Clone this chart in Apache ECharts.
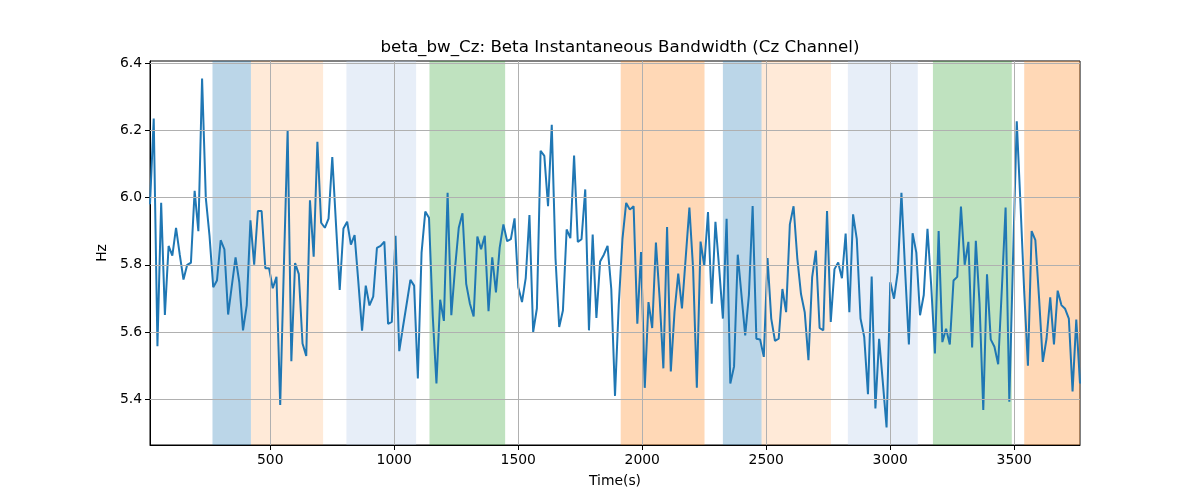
<!DOCTYPE html>
<html>
<head>
<meta charset="utf-8">
<script src="https://cdn.jsdelivr.net/npm/echarts@6/dist/echarts.min.js"></script>
<style>
html,body{margin:0;padding:0;background:#fff;}
#chart{width:1200px;height:500px;}
</style>
</head>
<body>
<div id="chart"></div>
<script>
var times = [
15,30,45,60,75,90,105,120,135,150,165,180,195,210,225,240,255,270,285,300,
315,330,345,360,375,390,405,420,435,450,465,480,495,510,525,540,555,570,585,600,
615,630,645,660,675,690,705,720,735,750,765,780,795,810,825,840,855,870,885,900,
915,930,945,960,975,990,1005,1020,1035,1050,1065,1080,1095,1110,1125,1140,1155,1170,1185,1200,
1215,1230,1245,1260,1275,1290,1305,1320,1335,1350,1365,1380,1395,1410,1425,1440,1455,1470,1485,1500,
1515,1530,1545,1560,1575,1590,1605,1620,1635,1650,1665,1680,1695,1710,1725,1740,1755,1770,1785,1800,
1815,1830,1845,1860,1875,1890,1905,1920,1935,1950,1965,1980,1995,2010,2025,2040,2055,2070,2085,2100,
2115,2130,2145,2160,2175,2190,2205,2220,2235,2250,2265,2280,2295,2310,2325,2340,2355,2370,2385,2400,
2415,2430,2445,2460,2475,2490,2505,2520,2535,2550,2565,2580,2595,2610,2625,2640,2655,2670,2685,2700,
2715,2730,2745,2760,2775,2790,2805,2820,2835,2850,2865,2880,2895,2910,2925,2940,2955,2970,2985,3000,
3015,3030,3045,3060,3075,3090,3105,3120,3135,3150,3165,3180,3195,3210,3225,3240,3255,3270,3285,3300,
3315,3330,3345,3360,3375,3390,3405,3420,3435,3450,3465,3480,3495,3510,3525,3540,3555,3570,3585,3600,
3615,3630,3645,3660,3675,3690,3705,3720,3735,3750,3765
];
var betaBw = [
5.98,6.235,5.558,5.984,5.651,5.856,5.827,5.91,5.83,5.756,5.80,5.806,6.02,5.90,6.354,5.999,5.886,5.733,5.753,5.873,
5.846,5.652,5.738,5.822,5.748,5.605,5.679,5.932,5.80,5.96,5.96,5.79,5.79,5.73,5.764,5.383,5.80,6.20,5.513,5.805,
5.772,5.566,5.529,5.992,5.824,6.166,5.925,5.91,5.937,6.12,5.92,5.725,5.908,5.928,5.86,5.888,5.75,5.604,5.738,5.679,
5.705,5.85,5.856,5.869,5.624,5.63,5.886,5.543,5.615,5.684,5.755,5.738,5.462,5.836,5.958,5.94,5.65,5.447,5.696,5.633,
6.014,5.65,5.79,5.91,5.953,5.743,5.684,5.646,5.884,5.846,5.886,5.662,5.822,5.718,5.851,5.92,5.87,5.876,5.938,5.733,
5.689,5.76,5.948,5.60,5.67,6.139,6.124,5.974,6.216,5.82,5.615,5.664,5.905,5.879,6.125,5.868,5.876,6.024,5.605,5.89,
5.642,5.81,5.83,5.856,5.728,5.41,5.679,5.876,5.984,5.964,5.974,5.625,5.838,5.434,5.689,5.612,5.866,5.70,5.492,5.912,
5.483,5.66,5.774,5.67,5.82,5.97,5.787,5.434,5.869,5.797,5.957,5.684,5.928,5.79,5.64,5.937,5.447,5.497,5.83,5.71,
5.59,5.71,5.975,5.58,5.578,5.526,5.82,5.64,5.574,5.58,5.728,5.659,5.92,5.974,5.82,5.713,5.659,5.516,5.763,5.842,
5.612,5.605,5.96,5.63,5.787,5.807,5.76,5.893,5.659,5.95,5.876,5.64,5.585,5.415,5.765,5.373,5.58,5.45,5.316,5.748,
5.699,5.778,6.014,5.78,5.563,5.894,5.836,5.65,5.71,5.907,5.738,5.536,5.90,5.57,5.61,5.563,5.753,5.764,5.973,5.80,
5.868,5.554,5.871,5.684,5.368,5.772,5.578,5.556,5.504,5.73,5.97,5.393,5.82,6.227,5.98,5.72,5.50,5.90,5.873,5.70,
5.511,5.58,5.703,5.563,5.723,5.68,5.669,5.64,5.423,5.637,5.447
];
var bandStarts = [267, 422, 807, 1142, 1913, 2325, 2481, 2829, 3172, 3540];
var bandEnds   = [422, 713, 1088, 1447, 2251, 2481, 2761, 3111, 3490, 3765];
var bandColors = [
  'rgba(31,119,180,0.3)', 'rgba(255,127,14,0.16)', 'rgba(174,199,232,0.3)', 'rgba(44,160,44,0.3)',
  'rgba(255,127,14,0.3)', 'rgba(31,119,180,0.3)', 'rgba(255,127,14,0.16)', 'rgba(174,199,232,0.3)',
  'rgba(44,160,44,0.3)', 'rgba(255,127,14,0.3)'
];
var xTicks = [500, 1000, 1500, 2000, 2500, 3000, 3500];
var yTicks = [5.4, 5.6, 5.8, 6.0, 6.2, 6.4];
var xMin = 15, xMax = 3765, yMin = 5.264, yMax = 6.406;

var lineData = times.map(function (t, i) { return [t, betaBw[i]]; });
var areaData = bandStarts.map(function (s, i) {
  return [{ xAxis: s, itemStyle: { color: bandColors[i] } }, { xAxis: bandEnds[i] }];
});
var gridLineData = xTicks.map(function (v) { return { xAxis: v }; })
  .concat(yTicks.map(function (v) { return { yAxis: v }; }));

var font = 'DejaVu Sans';
var chart = echarts.init(document.getElementById('chart'), null, { renderer: 'canvas' });
chart.setOption({
  animation: false,
  backgroundColor: '#fff',
  title: {
    text: 'beta_bw_Cz: Beta Instantaneous Bandwidth (Cz Channel)',
    left: 615, top: 34, textAlign: 'center',
    textStyle: { fontFamily: font, fontSize: 16.7, fontWeight: 'normal', color: '#000' }
  },
  grid: { left: 150, right: 120, top: 61, bottom: 55, show: true, borderColor: '#000', borderWidth: 1, backgroundColor: 'transparent' },
  xAxis: {
    type: 'value', min: xMin, max: xMax,
    name: 'Time(s)', nameLocation: 'middle', nameGap: 29,
    nameTextStyle: { fontFamily: font, fontSize: 13.9, color: '#000' },
    axisLine: { show: true, lineStyle: { color: '#000', width: 1 } },
    axisTick: { show: true, length: 5, lineStyle: { color: '#000' }, customValues: xTicks },
    axisLabel: { fontFamily: font, fontSize: 13.9, color: '#000', margin: 8, customValues: xTicks,
      formatter: function (v) { return String(v); } },
    splitLine: { show: false }
  },
  yAxis: {
    type: 'value', min: yMin, max: yMax,
    name: 'Hz', nameLocation: 'middle', nameGap: 40, nameRotate: 90,
    nameTextStyle: { fontFamily: font, fontSize: 13.9, color: '#000' },
    axisLine: { show: true, lineStyle: { color: '#000', width: 1 } },
    axisTick: { show: true, length: 5, lineStyle: { color: '#000' }, customValues: yTicks },
    axisLabel: { fontFamily: font, fontSize: 13.9, color: '#000', margin: 8, customValues: yTicks,
      formatter: function (v) { return Number(v).toFixed(1); } },
    splitLine: { show: false }
  },
  series: [
    {
      name: 'bands', type: 'line', data: lineData, z: 1, silent: true,
      showSymbol: false, symbol: 'none', lineStyle: { opacity: 0 },
      markArea: { silent: true, data: areaData }
    },
    {
      name: 'grid', type: 'line', data: lineData, z: 2, silent: true,
      showSymbol: false, symbol: 'none', lineStyle: { opacity: 0 },
      markLine: {
        silent: true, symbol: 'none', label: { show: false },
        lineStyle: { color: '#b0b0b0', width: 1, type: 'solid' },
        emphasis: { disabled: true },
        data: gridLineData
      }
    },
    {
      name: 'beta_bw_Cz', type: 'line', data: lineData, z: 3,
      showSymbol: false, symbol: 'none',
      lineStyle: { color: '#1f77b4', width: 2 },
      itemStyle: { color: '#1f77b4' }
    }
  ]
});
</script>
</body>
</html>
